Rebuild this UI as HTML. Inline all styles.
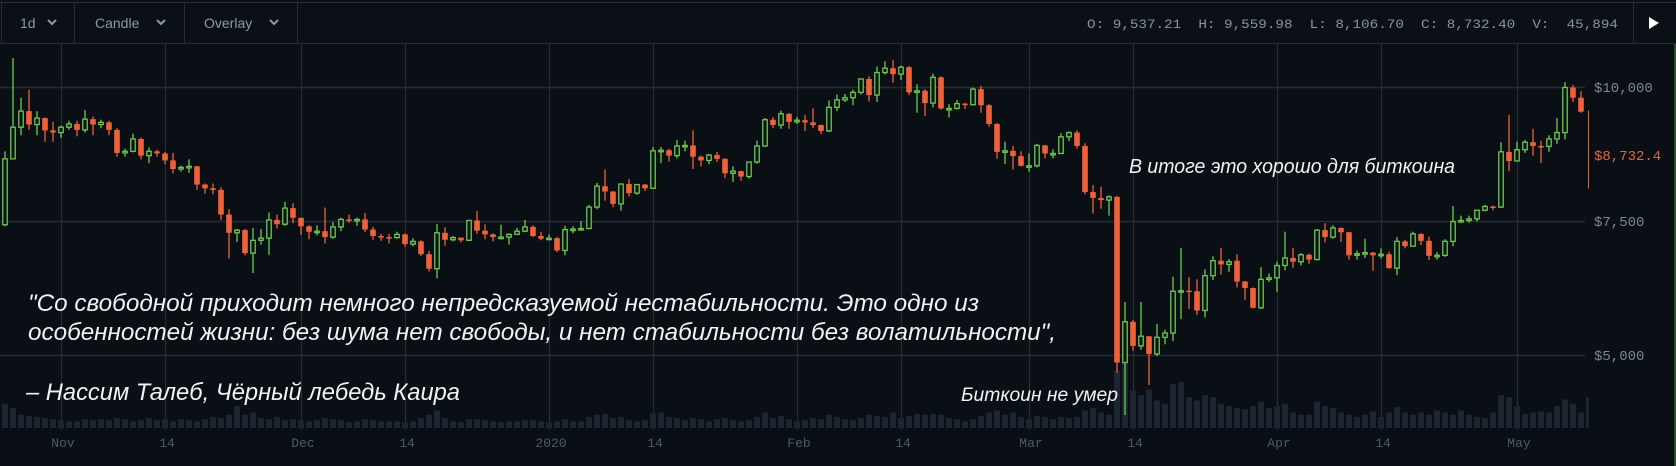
<!DOCTYPE html>
<html><head><meta charset="utf-8">
<style>
html,body{margin:0;padding:0;background:#0a0f15;}
#wrap{position:relative;width:1676px;height:466px;overflow:hidden;background:#0a0f15;font-family:"Liberation Sans",sans-serif;}
svg{position:absolute;left:0;top:0;}
</style></head>
<body>
<div id="wrap">
<svg id="chart" width="1676" height="466" xmlns="http://www.w3.org/2000/svg">
  <defs><clipPath id="plotclip"><rect x="0" y="44" width="1589" height="390"/></clipPath></defs>
  <g>
    <rect x="0" y="0" width="1676" height="43" fill="#0b1017"/>
    <line x1="0" y1="2.5" x2="1676" y2="2.5" stroke="#262d35"/>
    <line x1="0" y1="43.5" x2="1676" y2="43.5" stroke="#262d35"/>
    <line x1="1.5" y1="2" x2="1.5" y2="44" stroke="#262d35"/>
    <line x1="74.5" y1="2" x2="74.5" y2="44" stroke="#262d35"/>
    <line x1="184.5" y1="2" x2="184.5" y2="44" stroke="#262d35"/>
    <line x1="297.5" y1="2" x2="297.5" y2="44" stroke="#262d35"/>
    <line x1="1633.5" y1="2" x2="1633.5" y2="44" stroke="#262d35"/>
    <g>
      <text x="20" y="28" font-size="14" fill="#8d98a5" font-family="Liberation Sans, sans-serif">1d</text>
      <path d="M48 20 L52 24 L56 20" stroke="#8d98a5" stroke-width="2" fill="none"/>
    </g>
    <g>
      <text x="95" y="28" font-size="14" fill="#8d98a5" font-family="Liberation Sans, sans-serif">Candle</text>
      <path d="M157 20 L161 24 L165 20" stroke="#8d98a5" stroke-width="2" fill="none"/>
    </g>
    <g>
      <text x="204" y="28" font-size="14" fill="#8d98a5" font-family="Liberation Sans, sans-serif">Overlay</text>
      <path d="M270 20 L274 24 L278 20" stroke="#8d98a5" stroke-width="2" fill="none"/>
    </g>
    <text x="1618" y="28" text-anchor="end" font-size="13" fill="#8a939c" font-family="Liberation Mono, monospace" textLength="531" lengthAdjust="spacingAndGlyphs" xml:space="preserve">O: 9,537.21  H: 9,559.98  L: 8,106.70  C: 8,732.40  V:  45,894</text>
    <path d="M1649 17 L1659 23 L1649 29 Z" fill="#ffffff"/>
  </g>
  <line x1="1675" y1="44" x2="1675" y2="466" stroke="#3f8f3a" stroke-width="1"/>
  <g id="grid"></g>
  <g id="vol" clip-path="url(#plotclip)"></g>
  <g id="candles" clip-path="url(#plotclip)"></g>
  <g id="axes"></g>
  <g font-family="Liberation Sans, sans-serif" font-style="italic" fill="#f2f2f2">
    <text x="28" y="311" font-size="24" textLength="951" lengthAdjust="spacingAndGlyphs">"Со свободной приходит немного непредсказуемой нестабильности. Это одно из</text>
    <text x="28" y="340" font-size="24" textLength="1028" lengthAdjust="spacingAndGlyphs">особенностей жизни: без шума нет свободы, и нет стабильности без волатильности",</text>
    <text x="26" y="400" font-size="24" textLength="434" lengthAdjust="spacingAndGlyphs">– Нассим Талеб, Чёрный лебедь Каира</text>
    <text x="1129" y="173" font-size="20" textLength="326" lengthAdjust="spacingAndGlyphs">В итоге это хорошо для биткоина</text>
    <text x="961" y="401" font-size="19" textLength="157" lengthAdjust="spacingAndGlyphs">Биткоин не умер</text>
  </g>
</svg>
</div>
<script>
const startDate = '2019-10-25';
const openP = [7430,8660,9250,9550,9300,9420,9190,9150,9250,9310,9200,9400,9300,9340,9200,8770,8800,9030,8720,8800,8760,8630,8470,8500,8520,8180,8110,8080,7620,7280,7330,6900,7140,7180,7520,7440,7740,7560,7400,7300,7310,7200,7390,7530,7510,7530,7340,7220,7200,7190,7250,7070,7120,6880,6610,7280,7150,7190,7140,7510,7320,7250,7200,7200,7250,7310,7390,7220,7170,7180,6950,7340,7350,7360,7760,8150,8050,7820,8190,8020,8180,8110,8810,8820,8720,8900,8910,8700,8630,8730,8660,8390,8430,8330,8600,8900,9390,9290,9500,9350,9380,9340,9290,9180,9620,9760,9800,9900,10150,9850,10270,10350,10240,10370,9900,9930,9700,10180,9600,9600,9690,9670,9960,9660,9310,8790,8810,8710,8530,8530,8910,8760,8760,9070,9150,8900,8040,7930,7890,7950,4860,5620,5170,5350,5020,5330,5410,6190,6200,6190,5830,6480,6760,6690,6760,6370,6250,5880,6410,6440,6670,6810,6740,6870,6780,7330,7200,7370,7290,6860,6890,6910,6860,6880,6620,7120,7030,7260,7130,6850,6860,7120,7490,7510,7540,7700,7770,7760,8790,8620,8830,8970,8900,8890,9030,9150,9990,9800,9540];
const highP = [8800,10540,9800,9950,9550,9430,9350,9280,9370,9370,9570,9450,9390,9370,9230,8850,9130,9060,8870,8830,8790,8770,8530,8650,8530,8200,8200,8130,7720,7350,7350,7370,7350,7660,7620,7860,7830,7560,7420,7420,7750,7480,7560,7620,7560,7650,7390,7260,7260,7300,7270,7180,7140,6940,7440,7380,7220,7190,7520,7690,7440,7270,7430,7270,7370,7520,7420,7300,7250,7200,7410,7400,7500,7800,8210,8460,8060,8190,8280,8190,8190,8880,8880,8850,9010,9000,9190,8720,8750,8790,8670,8520,8440,8610,9000,9420,9440,9560,9510,9440,9480,9600,9300,9750,9860,9870,9950,10160,10200,10380,10480,10500,10400,10390,10050,9960,10250,10200,9680,9760,9700,9990,10020,9680,9330,8980,8900,8800,8760,8940,8920,8840,9140,9170,9190,8950,8170,8140,7980,7970,5990,5650,5990,5350,5580,5470,6460,7000,6450,6410,6600,6840,7000,6790,6880,6380,6260,6640,6520,6740,7300,7000,6900,6890,7350,7460,7420,7380,7300,6950,7170,6920,6990,6930,7200,7150,7300,7270,7210,6920,7160,7780,7600,7600,7710,7800,7790,8970,9480,8980,9010,9220,9000,9100,9420,10090,10040,9920,9560];
const lowP = [7400,8700,9100,9200,9100,8980,8980,9050,9200,9080,9150,9100,9230,9100,8700,8700,8780,8650,8580,8700,8560,8390,8420,8400,8080,8010,8000,7520,6800,7110,6860,6530,7060,6870,7360,7410,7460,7240,7160,7230,7080,7170,7310,7470,7410,7290,7150,7130,7080,7170,7020,7030,6850,6560,6430,7040,7120,7100,7130,7260,7160,7120,7160,7060,7250,7290,7200,7140,7150,6920,6860,7270,7320,7350,7720,7880,7760,7690,7960,7990,8060,8100,8580,8610,8670,8800,8470,8520,8560,8600,8300,8230,8250,8290,8570,8880,9230,9220,9220,9310,9180,9230,9120,9160,9550,9720,9660,9860,9730,9720,10230,10080,10130,9850,9520,9460,9620,9580,9430,9580,9590,9660,9520,9260,8660,8560,8460,8520,8420,8500,8670,8670,8750,8990,8850,8000,7640,7730,7600,4670,3880,5080,5100,4440,4980,5200,5260,5670,5860,5750,5700,6400,6500,6550,6260,6030,5870,5860,6360,6180,6580,6630,6670,6700,6770,7100,7170,7110,6780,6780,6810,6570,6800,6610,6490,6990,7030,7050,6770,6780,6830,7030,7460,7470,7490,7680,7700,7740,8430,8620,8770,8720,8580,8790,8940,9020,9720,9520,8107];
const closeP = [8660,9250,9550,9300,9420,9190,9150,9250,9310,9200,9400,9300,9340,9200,8770,8800,9030,8720,8800,8760,8630,8470,8500,8520,8180,8110,8080,7620,7280,7330,6900,7140,7180,7520,7440,7740,7560,7400,7300,7310,7200,7390,7530,7510,7530,7340,7220,7200,7190,7250,7070,7120,6880,6610,7280,7150,7190,7140,7510,7320,7250,7200,7200,7250,7310,7390,7220,7170,7180,6950,7340,7350,7360,7760,8150,8050,7820,8190,8020,8180,8110,8810,8820,8720,8900,8910,8700,8630,8730,8660,8390,8430,8330,8600,8900,9390,9290,9500,9350,9380,9340,9290,9180,9620,9760,9800,9900,10150,9850,10270,10350,10240,10370,9900,9930,9700,10180,9600,9600,9690,9670,9960,9660,9310,8790,8810,8710,8530,8530,8910,8760,8760,9070,9150,8900,8040,7930,7890,7950,4860,5620,5170,5350,5020,5330,5410,6190,6200,6190,5830,6480,6760,6690,6740,6370,6250,5880,6410,6440,6670,6810,6740,6870,6780,7330,7200,7370,7290,6860,6890,6910,6860,6880,6620,7120,7030,7260,7130,6850,6860,7120,7490,7510,7540,7700,7770,7760,8790,8620,8830,8970,8900,8890,9030,9150,9990,9800,9540,8732];
const volumes = [22,18,12,11,10,9,8,7,6,6,8,7,8,7,9,8,6,7,9,7,8,6,8,7,6,8,10,9,12,20,12,14,9,8,10,7,8,7,6,7,9,8,7,5,6,8,7,6,6,6,5,6,9,12,16,9,6,5,8,8,7,6,5,6,6,7,7,6,5,6,8,6,6,10,12,13,9,10,7,6,7,13,14,10,9,7,9,8,6,8,9,7,6,7,10,14,9,11,8,6,7,9,8,12,10,8,7,9,12,11,10,14,9,11,13,12,13,12,9,8,6,8,11,14,16,12,14,10,8,11,10,8,10,9,10,16,18,14,12,52,64,34,30,35,25,22,40,42,28,25,30,28,22,20,18,17,20,24,18,20,22,14,12,12,24,20,18,14,12,10,12,15,10,14,19,14,12,14,12,16,14,12,16,12,10,9,14,30,28,20,13,14,15,14,20,26,22,14,28];
const priceTicks = [10000,7500,5000];
const priceTickLabels = ['$10,000','$7,500','$5,000'];
const dateTickIndex = [7,20,37,50,68,81,99,112,128,141,159,172,189];
const dateTickLabels = ['Nov','14','Dec','14','2020','14','Feb','14','Mar','14','Apr','14','May'];
const lastPrice = 8732.4;
const lastPriceLabel = '$8,732.4';

const NS = 'http://www.w3.org/2000/svg';
function xScale(i){ return 5 + 8*i; }
function yScale(p){ return 87 + (10000 - p) * 0.0536; }
function volH(v){ return v * 1.1; }
const VOL_BASE = 428;
const GREEN = '#6acb4f', RED = '#ef6239', BG = '#0a0f15', GRID = '#252c34';
function mk(tag, attrs){ const e = document.createElementNS(NS, tag); for (const k in attrs) e.setAttribute(k, attrs[k]); return e; }

const grid = document.getElementById('grid');
priceTicks.forEach(function(p){
  const l = mk('line', {x1:0, x2:1585, y1:yScale(p)+0.5, y2:yScale(p)+0.5, stroke:GRID, 'stroke-width':1.5});
  
  
  grid.appendChild(l);
});
dateTickIndex.forEach(function(i){
  const x = Math.round(xScale(i)) + 0.5;
  const l = mk('line', {x1:x, x2:x, y1:44, y2:430, stroke:GRID, 'stroke-width':1.2});
  
  
  grid.appendChild(l);
});

const vol = document.getElementById('vol');
volumes.forEach(function(v, i){
  const h = volH(v);
  const r = mk('rect', {x:xScale(i)-3, y:VOL_BASE-h, width:6, height:h, fill:'#1b2631'});
  
  
  vol.appendChild(r);
});

const cg = document.getElementById('candles');
closeP.forEach(function(c, i){
  const o = openP[i], h = highP[i], l = lowP[i];
  const x = xScale(i);
  const up = c >= o;
  const col = up ? GREEN : RED;
  const g = mk('g', {});
  
  
  const yt = yScale(Math.max(o, c)), yb = yScale(Math.min(o, c));
  const bh = Math.max(yb - yt, 1.5);
  if (i === closeP.length - 1) {
    g.appendChild(mk('line', {x1:x, x2:x, y1:yScale(h), y2:yScale(l), stroke:col, 'stroke-width':2}));
  } else if (up) {
    g.appendChild(mk('line', {x1:x, x2:x, y1:yScale(h), y2:yt, stroke:col, 'stroke-width':1.3}));
    g.appendChild(mk('line', {x1:x, x2:x, y1:yt+bh, y2:yScale(l), stroke:col, 'stroke-width':1.3}));
    g.appendChild(mk('rect', {x:x-2.2, y:yt, width:4.4, height:bh, fill:BG, stroke:col, 'stroke-width':1.3}));
  } else {
    g.appendChild(mk('line', {x1:x, x2:x, y1:yScale(h), y2:yScale(l), stroke:col, 'stroke-width':1.3}));
    g.appendChild(mk('rect', {x:x-2.8, y:yt, width:5.6, height:bh, fill:col}));
  }
  cg.appendChild(g);
});

const axes = document.getElementById('axes');
priceTicks.forEach(function(p, k){
  const t = mk('text', {x:1594, y:yScale(p)+5, 'font-size':14, fill:'#7d868f', 'font-family':'Liberation Mono, monospace'});
  t.textContent = priceTickLabels[k];
  
  
  axes.appendChild(t);
});
const lp = mk('text', {x:1594, y:yScale(lastPrice)+5, 'font-size':14, fill:RED, 'font-family':'Liberation Mono, monospace'});
lp.textContent = lastPriceLabel;


axes.appendChild(lp);
dateTickIndex.forEach(function(i, k){
  const t = mk('text', {x:xScale(i)+2, y:447, 'text-anchor':'middle', 'font-size':13, fill:'#505a64', 'font-family':'Liberation Mono, monospace'});
  t.textContent = dateTickLabels[k];
  
  
  axes.appendChild(t);
});
</script>
</body></html>
